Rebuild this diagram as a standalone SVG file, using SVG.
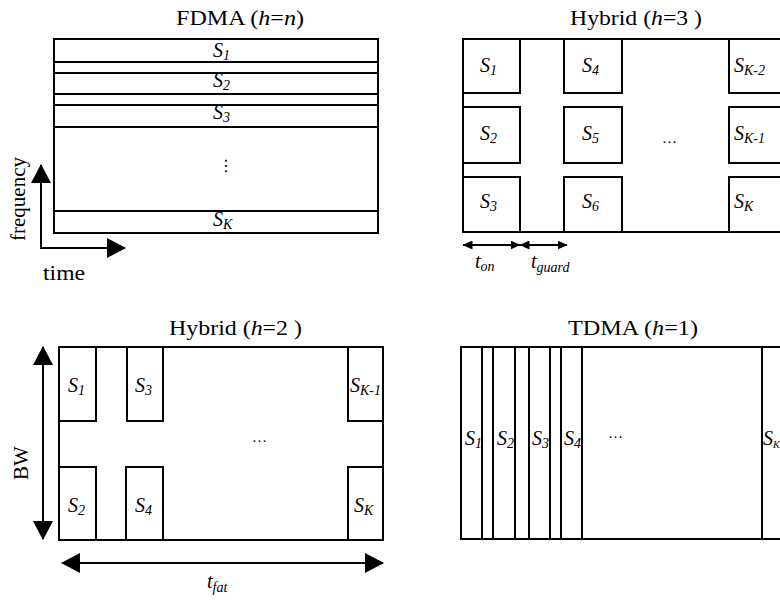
<svg xmlns="http://www.w3.org/2000/svg" width="780" height="603" viewBox="0 0 780 603">
<defs>
<style>
.bx{fill:none;stroke:#000;stroke-width:2}
.ln{stroke:#000;stroke-width:2;fill:none}
.t{font-family:"Liberation Serif","Times New Roman",serif;font-size:21px;fill:#000}
.i{font-style:italic}
.s{font-family:"Liberation Serif","Times New Roman",serif;font-style:italic;font-size:20px;fill:#000}
.sub{font-size:14px}
.dots{font-family:"Liberation Serif",serif;font-size:15px;fill:#000}
</style>
<marker id="big" viewBox="0 0 19 20" refX="18" refY="10" markerWidth="19" markerHeight="20" markerUnits="userSpaceOnUse" orient="auto-start-reverse"><path d="M0,0 L19,10 L0,20 z" fill="#000"/></marker>
<marker id="sm" viewBox="0 0 10 9" refX="9.5" refY="4.5" markerWidth="10" markerHeight="9" markerUnits="userSpaceOnUse" orient="auto-start-reverse"><path d="M0,0 L10,4.5 L0,9 z" fill="#000"/></marker>
</defs>
<rect width="780" height="603" fill="#fff"/>

<!-- Titles -->
<text class="t" x="176" y="25" textLength="128" lengthAdjust="spacingAndGlyphs">FDMA (<tspan class="i">h</tspan>=<tspan class="i">n</tspan>)</text>
<text class="t" x="570" y="25" textLength="132" lengthAdjust="spacingAndGlyphs">Hybrid (<tspan class="i">h</tspan>=3 )</text>
<text class="t" x="169" y="335" textLength="133" lengthAdjust="spacingAndGlyphs">Hybrid (<tspan class="i">h</tspan>=2 )</text>
<text class="t" x="568" y="335" textLength="130" lengthAdjust="spacingAndGlyphs">TDMA (<tspan class="i">h</tspan>=1)</text>

<!-- FDMA panel -->
<g id="fdma">
<rect class="bx" x="54" y="39" width="324" height="194"/>
<g id="fdma-s1"><rect class="bx" x="54" y="39" width="324" height="23"/><text class="s" x="213" y="57">S<tspan class="sub" dy="3">1</tspan></text></g>
<g id="fdma-s2"><rect class="bx" x="54" y="73" width="324" height="21"/><text class="s" x="213" y="87">S<tspan class="sub" dy="3">2</tspan></text></g>
<g id="fdma-s3"><rect class="bx" x="54" y="105" width="324" height="22"/><text class="s" x="213" y="119">S<tspan class="sub" dy="3">3</tspan></text></g>
<g id="fdma-sk"><rect class="bx" x="54" y="211" width="324" height="22"/><text class="s" x="213" y="226">S<tspan class="sub" dy="3">K</tspan></text></g>
<text x="226" y="171" font-family="DejaVu Sans,sans-serif" font-size="16" text-anchor="middle">⋮</text>
</g>
<text class="t" x="43" y="280" textLength="42" lengthAdjust="spacingAndGlyphs">time</text>
<text class="t" transform="translate(25,199) rotate(-90)" text-anchor="middle" font-size="22">frequency</text>

<!-- Hybrid h=3 -->
<g id="hybrid3">
<rect class="bx" x="463" y="39" width="340" height="193"/>
<g id="h3-s1"><rect class="bx" x="463" y="39" width="57" height="54"/><text class="s" x="480" y="72">S<tspan class="sub" dy="3">1</tspan></text></g>
<g id="h3-s2"><rect class="bx" x="463" y="107" width="57" height="56"/><text class="s" x="480" y="140">S<tspan class="sub" dy="3">2</tspan></text></g>
<g id="h3-s3"><rect class="bx" x="463" y="177" width="57" height="55"/><text class="s" x="480" y="208">S<tspan class="sub" dy="3">3</tspan></text></g>
<g id="h3-s4"><rect class="bx" x="564" y="39" width="58" height="54"/><text class="s" x="582" y="72">S<tspan class="sub" dy="3">4</tspan></text></g>
<g id="h3-s5"><rect class="bx" x="564" y="107" width="58" height="56"/><text class="s" x="582" y="140">S<tspan class="sub" dy="3">5</tspan></text></g>
<g id="h3-s6"><rect class="bx" x="564" y="177" width="58" height="55"/><text class="s" x="582" y="208">S<tspan class="sub" dy="3">6</tspan></text></g>
<g id="h3-sk2"><rect class="bx" x="729" y="39" width="80" height="54"/><text class="s" x="734" y="72">S<tspan class="sub" dy="3">K-2</tspan></text></g>
<g id="h3-sk1"><rect class="bx" x="729" y="107" width="80" height="56"/><text class="s" x="734" y="140">S<tspan class="sub" dy="3">K-1</tspan></text></g>
<g id="h3-sk"><rect class="bx" x="729" y="177" width="80" height="55"/><text class="s" x="734" y="208">S<tspan class="sub" dy="3">K</tspan></text></g>
<text class="dots" x="662" y="143">…</text>
</g>
<text class="s" x="475" y="268">t<tspan class="sub" dy="3">on</tspan></text>
<text class="s" x="531" y="268">t<tspan class="sub" dy="4">guard</tspan></text>

<!-- Hybrid h=2 -->
<g id="hybrid2">
<rect class="bx" x="59" y="347" width="324" height="193"/>
<g id="h2-s1"><rect class="bx" x="59" y="347" width="37" height="74"/><text class="s" x="68" y="392">S<tspan class="sub" dy="3">1</tspan></text></g>
<g id="h2-s2"><rect class="bx" x="59" y="467" width="37" height="73"/><text class="s" x="68" y="512">S<tspan class="sub" dy="3">2</tspan></text></g>
<g id="h2-s3"><rect class="bx" x="127" y="347" width="36" height="74"/><text class="s" x="135" y="392">S<tspan class="sub" dy="3">3</tspan></text></g>
<g id="h2-s4"><rect class="bx" x="126" y="467" width="37" height="73"/><text class="s" x="135" y="512">S<tspan class="sub" dy="3">4</tspan></text></g>
<g id="h2-sk1"><rect class="bx" x="348" y="347" width="35" height="74"/><text class="s" x="350" y="392">S<tspan class="sub" dy="3" font-size="12">K-1</tspan></text></g>
<g id="h2-sk"><rect class="bx" x="348" y="467" width="35" height="73"/><text class="s" x="354" y="512">S<tspan class="sub" dy="3">K</tspan></text></g>
<text class="dots" x="252" y="442">…</text>
</g>
<text class="t" transform="translate(28,463) rotate(-90)" text-anchor="middle" font-size="24">BW</text>
<text class="s" x="207" y="588">t<tspan class="sub" dy="4">fat</tspan></text>

<!-- TDMA -->
<g id="tdma">
<g id="td-s1"><text class="s" x="465" y="445">S<tspan class="sub" dy="3">1</tspan></text></g>
<g id="td-s2"><text class="s" x="497" y="445">S<tspan class="sub" dy="3">2</tspan></text></g>
<g id="td-s3"><text class="s" x="532" y="445">S<tspan class="sub" dy="3">3</tspan></text></g>
<g id="td-s4"><text class="s" x="564" y="445">S<tspan class="sub" dy="3">4</tspan></text></g>
<g id="td-sk"><text class="s" x="763" y="445" font-size="18">S<tspan dy="3" font-size="10">K</tspan></text></g>
<text class="dots" x="608" y="438">…</text>
<rect class="bx" x="461" y="347" width="340" height="192"/>
<path class="ln" d="M482,347V539M493,347V539M515,347V539M529,347V539M550,347V539M561,347V539M582,347V539M762,347V539"/>
</g>

<!-- Connectors -->
<g id="connectors">
<line class="ln" x1="41" y1="248" x2="41" y2="165" marker-end="url(#big)"/>
<line class="ln" x1="40" y1="248" x2="125" y2="248" marker-end="url(#big)"/>
<line class="ln" x1="463" y1="245" x2="520" y2="245" marker-start="url(#sm)" marker-end="url(#sm)"/>
<line class="ln" x1="520" y1="245" x2="567" y2="245" marker-start="url(#sm)" marker-end="url(#sm)"/>
<line class="ln" x1="43" y1="347" x2="43" y2="539" marker-start="url(#big)" marker-end="url(#big)"/>
<line class="ln" x1="62" y1="563" x2="383" y2="563" marker-start="url(#big)" marker-end="url(#big)"/>
</g>
</svg>
